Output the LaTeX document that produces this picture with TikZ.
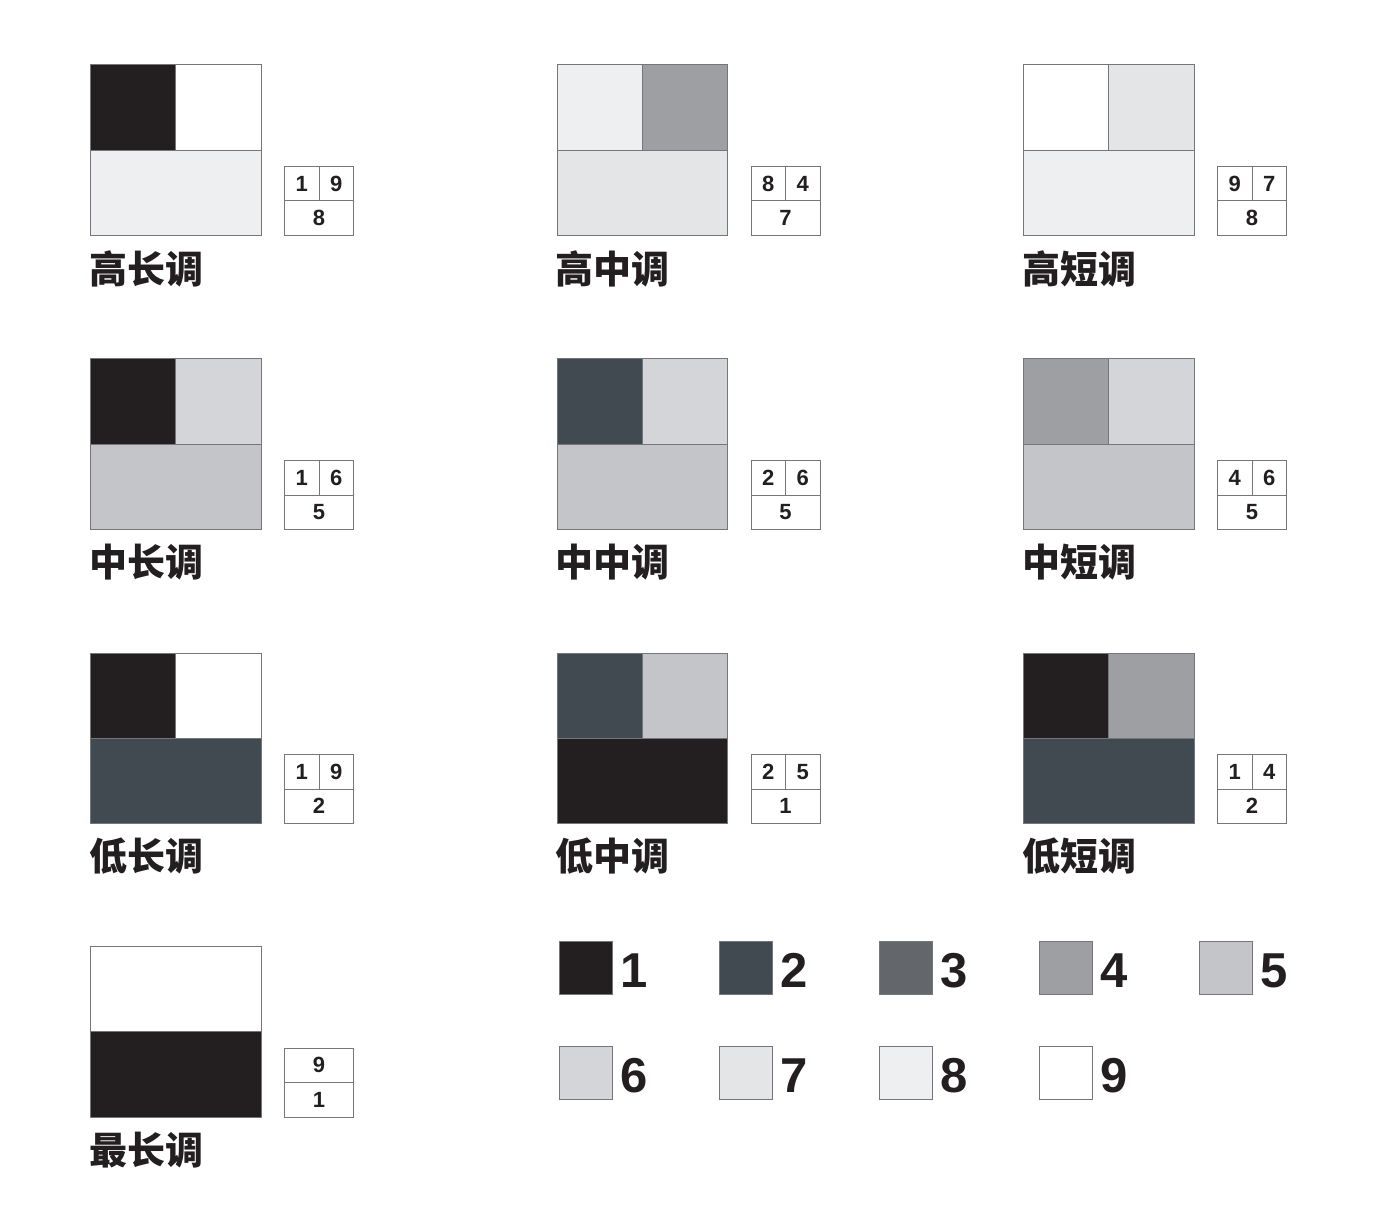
\documentclass[tikz,border=0pt]{standalone}
\usepackage{fontspec}
\setmainfont{Liberation Sans}
\newfontfamily\cjkfont{Noto Sans CJK SC}
\definecolor{t1}{HTML}{231F20}
\definecolor{t2}{HTML}{414A50}
\definecolor{t3}{HTML}{63676B}
\definecolor{t4}{HTML}{9E9FA3}
\definecolor{t5}{HTML}{C4C5C8}
\definecolor{t6}{HTML}{D4D5D8}
\definecolor{t7}{HTML}{E4E5E7}
\definecolor{t8}{HTML}{EEEFF0}
\definecolor{t9}{HTML}{FFFFFF}
\definecolor{edgegray}{HTML}{75767A}
\tikzset{
  cell/.style={draw=edgegray, line width=1pt, inner sep=0pt, anchor=north west},
  numcell/.style={draw=edgegray, line width=0.9pt, inner sep=0pt, anchor=north west,
    font=\fontsize{22}{22}\selectfont\bfseries, text=t1},
  panellabel/.style={inner sep=0pt, anchor=west, font=\cjkfont\bfseries\fontsize{38}{38}\selectfont, text=t1},
  swatch/.style={draw=edgegray, line width=1pt, inner sep=0pt, minimum width=52.5pt, minimum height=52.5pt},
  swatchlabel/.style={inner sep=0pt, anchor=base west, font=\fontsize{49}{49}\selectfont\bfseries, text=t1}
}
% #1 name, #2 #3 #4 colours (left, right, bottom), #5 #6 #7 numbers, #8 label
\newcommand\tonepanel[8]{%
  \node[cell, fill=#2, minimum width=85.25pt, minimum height=85.25pt] (#1tl) at (0,0) {};
  \node[cell, fill=#3, minimum width=85.25pt, minimum height=85.25pt] (#1tr) at (85.25,0) {};
  \node[cell, fill=#4, minimum width=170.5pt, minimum height=85.25pt] (#1bt) at (0,85.25) {};
  \node[numcell, minimum width=34.5pt, minimum height=34.5pt] (#1na) at (194,101.5) {#5};
  \node[numcell, minimum width=34.5pt, minimum height=34.5pt] (#1nb) at (228.5,101.5) {#6};
  \node[numcell, minimum width=69pt, minimum height=34.5pt] (#1nc) at (194,136) {#7};
  \node[panellabel] (#1lab) at (-1,204) {#8};
}
\begin{document}
\begin{tikzpicture}[x=1pt,y=-1pt]
\useasboundingbox (0,0) rectangle (1385,1206);
\fill[white] (0,0) rectangle (1385,1206);
% row 1
\begin{scope}[shift={(90,64.5)}]\tonepanel{a}{t1}{t9}{t8}{1}{9}{8}{高长调}\end{scope}
\begin{scope}[shift={(556.5,64.5)}]\tonepanel{b}{t8}{t4}{t7}{8}{4}{7}{高中调}\end{scope}
\begin{scope}[shift={(1023,64.5)}]\tonepanel{c}{t9}{t7}{t8}{9}{7}{8}{高短调}\end{scope}
% row 2
\begin{scope}[shift={(90,358.5)}]\tonepanel{d}{t1}{t6}{t5}{1}{6}{5}{中长调}\end{scope}
\begin{scope}[shift={(556.5,358.5)}]\tonepanel{e}{t2}{t6}{t5}{2}{6}{5}{中中调}\end{scope}
\begin{scope}[shift={(1023,358.5)}]\tonepanel{f}{t4}{t6}{t5}{4}{6}{5}{中短调}\end{scope}
% row 3
\begin{scope}[shift={(90,652.5)}]\tonepanel{g}{t1}{t9}{t2}{1}{9}{2}{低长调}\end{scope}
\begin{scope}[shift={(556.5,652.5)}]\tonepanel{h}{t2}{t5}{t1}{2}{5}{1}{低中调}\end{scope}
\begin{scope}[shift={(1023,652.5)}]\tonepanel{i}{t1}{t4}{t2}{1}{4}{2}{低短调}\end{scope}
% row 4
\begin{scope}[shift={(90,946)}]
  \node[cell, fill=t9, minimum width=170.5pt, minimum height=85.25pt] (jtp) at (0,0) {};
  \node[cell, fill=t1, minimum width=170.5pt, minimum height=85.25pt] (jbt) at (0,85.25) {};
  \node[numcell, minimum width=69pt, minimum height=34.5pt] (jna) at (194,101.5) {9};
  \node[numcell, minimum width=69pt, minimum height=34.5pt] (jnc) at (194,136) {1};
  \node[panellabel] (jlab) at (-1,204) {最长调};
\end{scope}
% legend
\foreach \n/\cx/\cy in {1/586/968, 2/746/968, 3/906/968, 4/1066/968, 5/1226/968,
                        6/586/1073, 7/746/1073, 8/906/1073, 9/1066/1073}{
  \node[swatch, fill=t\n] (sw\n) at (\cx,\cy) {};
  \node[swatchlabel] (swl\n) at ([xshift=8pt,yshift=7pt]sw\n.south east) {\n};
}
\end{tikzpicture}
\end{document}
